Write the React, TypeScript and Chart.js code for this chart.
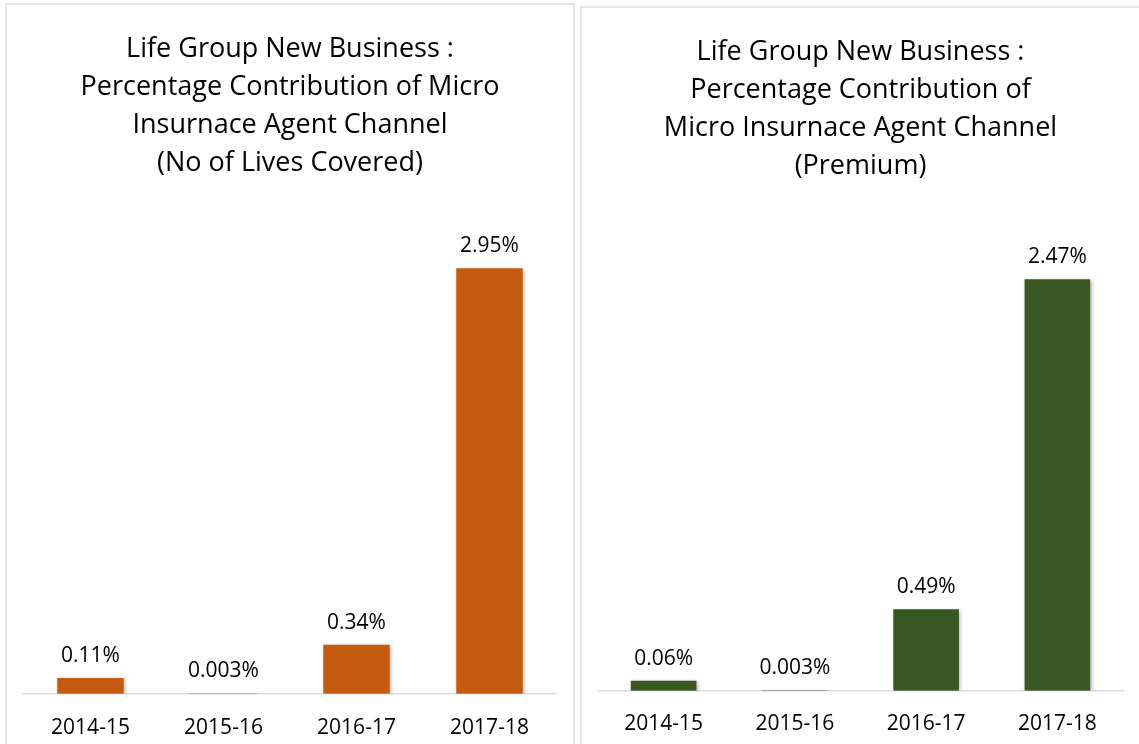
import React, { useEffect, useRef } from "react";
import { Chart, registerables } from "chart.js";

Chart.register(...registerables);

const categories = ["2014-15", "2015-16", "2016-17", "2017-18"];
const livesValues = [0.11, 0.003, 0.34, 2.95];
const livesLabels = ["0.11%", "0.003%", "0.34%", "2.95%"];
const premiumValues = [0.06, 0.003, 0.49, 2.47];
const premiumLabels = ["0.06%", "0.003%", "0.49%", "2.47%"];
const livesTitle = [
  "Life Group New Business :",
  "Percentage Contribution of Micro",
  "Insurnace Agent Channel",
  "(No of Lives Covered)",
];
const premiumTitle = [
  "Life Group New Business :",
  "Percentage Contribution of",
  "Micro Insurnace Agent Channel",
  "(Premium)",
];

const FONT = "'Open Sans', 'Noto Sans', sans-serif";

const labelPlugin = {
  id: "barLabels",
  afterDatasetsDraw(chart: any) {
    const ctx = chart.ctx;
    const labels: string[] = chart.options.plugins.barLabels.labels;
    const meta = chart.getDatasetMeta(0);
    ctx.save();
    ctx.font = `21px ${FONT}`;
    ctx.fillStyle = "#000000";
    ctx.textAlign = "center";
    ctx.textBaseline = "middle";
    meta.data.forEach((el: any, i: number) => {
      ctx.fillText(labels[i], el.x, el.y - 22);
    });
    ctx.restore();
  },
};

const shadowPlugin = {
  id: "barShadow",
  beforeDatasetDraw(chart: any) {
    const ctx = chart.ctx;
    ctx.save();
    ctx.shadowColor = "rgba(0,0,0,0.3)";
    ctx.shadowBlur = 4;
    ctx.shadowOffsetX = 1.5;
    ctx.shadowOffsetY = 1.5;
  },
  afterDatasetDraw(chart: any) {
    chart.ctx.restore();
  },
};

type PanelProps = {
  values: number[];
  labels: string[];
  title: string[];
  color: string;
  yMax: number;
  padding: { left: number; right: number; top: number; bottom: number };
  titleTop: number;
  titleBottom: number;
  tickPad: number;
};

function BarPanel(props: PanelProps) {
  const ref = useRef<HTMLCanvasElement>(null);
  useEffect(() => {
    if (!ref.current) return;
    const chart = new Chart(ref.current, {
      type: "bar",
      data: {
        labels: categories,
        datasets: [
          {
            data: props.values,
            backgroundColor: props.color,
            borderWidth: 0,
            categoryPercentage: 1,
            barPercentage: 0.5,
          },
        ],
      },
      options: {
        animation: false,
        responsive: true,
        maintainAspectRatio: false,
        devicePixelRatio: 1,
        layout: { padding: props.padding },
        plugins: {
          legend: { display: false },
          tooltip: { enabled: false },
          title: {
            display: true,
            text: props.title,
            color: "#000000",
            font: { family: FONT, size: 27, weight: "normal", lineHeight: 38 / 27 },
            padding: { top: props.titleTop, bottom: props.titleBottom },
          },
          barLabels: { labels: props.labels },
        } as any,
        scales: {
          x: {
            grid: { display: false, drawTicks: false },
            border: { display: true, color: "#d9dde3", width: 1.5 },
            ticks: {
              color: "#000000",
              font: { family: FONT, size: 21 },
              padding: props.tickPad,
            },
          },
          y: {
            display: false,
            min: 0,
            max: props.yMax,
          },
        },
      },
      plugins: [shadowPlugin, labelPlugin],
    });
    return () => chart.destroy();
  }, []);
  return <canvas ref={ref} />;
}

export default function App() {
  return (
    <div
      style={{
        position: "absolute",
        left: 0,
        top: 0,
        width: 1139,
        height: 744,
        overflow: "hidden",
        background: "#ffffff",
      }}
    >
      <div
        style={{
          position: "absolute",
          left: 5,
          top: 3,
          width: 566,
          height: 760,
          border: "2px solid #e3e6ec",
        }}
      />
      <div
        style={{
          position: "absolute",
          left: 580,
          top: 6,
          width: 570,
          height: 760,
          border: "2px solid #e3e6ec",
        }}
      />
      <div style={{ position: "absolute", left: 7, top: 5, width: 566, height: 758 }}>
        <BarPanel
          values={livesValues}
          labels={livesLabels}
          title={livesTitle}
          color="#C55A11"
          yMax={3.5}
          padding={{ left: 17, right: 17, top: 0, bottom: 0 }}
          titleTop={25}
          titleBottom={7}
          tickPad={22}
        />
      </div>
      <div style={{ position: "absolute", left: 582, top: 8, width: 557, height: 750 }}>
        <BarPanel
          values={premiumValues}
          labels={premiumLabels}
          title={premiumTitle}
          color="#385723"
          yMax={3.0}
          padding={{ left: 16, right: 16, top: 0, bottom: 0 }}
          titleTop={25}
          titleBottom={6}
          tickPad={21}
        />
      </div>
    </div>
  );
}
